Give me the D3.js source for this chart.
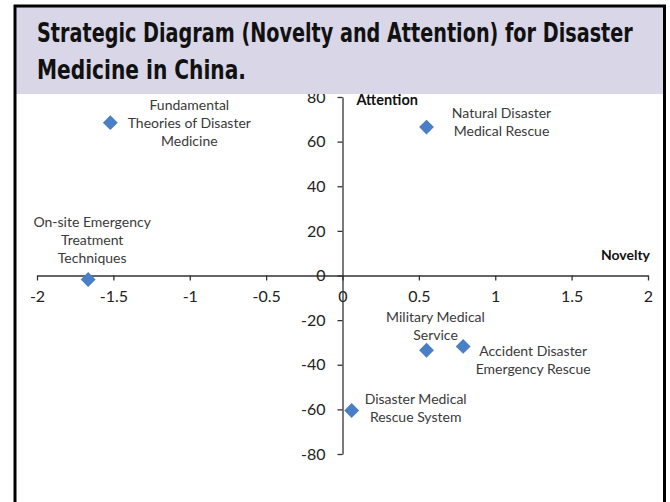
<!DOCTYPE html>
<html>
<head>
<meta charset="utf-8">
<script src="https://cdn.jsdelivr.net/npm/d3@7"></script>
<style>
  html, body { margin: 0; padding: 0; background: #fff; }
  svg { display: block; }
</style>
</head>
<body>
<div id="chart"></div>
<script>
// Research themes placed by novelty (x) and attention (y)
const themes = [
  ["Fundamental", "Theories of Disaster", "Medicine"],
  ["Natural Disaster", "Medical Rescue"],
  ["On-site Emergency", "Treatment", "Techniques"],
  ["Military Medical", "Service"],
  ["Accident Disaster", "Emergency Rescue"],
  ["Disaster Medical", "Rescue System"]
];
const novelty   = [-1.52, 0.55, -1.665, 0.55, 0.79, 0.06];
const attention = [68.5, 66.5, -1.8, -33.5, -31.8, -60.5];

const xTicks = [-2, -1.5, -1, -0.5, 0, 0.5, 1, 1.5, 2];
const yTicks = [-80, -60, -40, -20, 0, 20, 40, 60, 80];

const titleLines = [
  "Strategic Diagram (Novelty and Attention) for Disaster",
  "Medicine in China."
];

// label placement relative to each marker: [dx, dy of first line]
const labelOffset = [[79, -18], [75, -14], [4, -57], [9, -33], [70, 5], [64, -11]];

const W = 670, H = 502;
const svg = d3.select("#chart").append("svg")
  .attr("width", W).attr("height", H);

const x = d3.scaleLinear().domain([-2, 2]).range([37, 648]);
const y = d3.scaleLinear().domain([-80, 80]).range([454, 97]);

const axisColor = "#333";
const labelFont = "Lato, 'Open Sans', sans-serif";

// x axis through y = 0
const gx = svg.append("g")
  .attr("transform", `translate(0,${y(0)})`)
  .call(d3.axisBottom(x).tickValues(xTicks).tickSize(5).tickSizeOuter(0).tickPadding(10)
    .tickFormat(d => String(d)));

// y axis through x = 0
const gy = svg.append("g")
  .attr("transform", `translate(${x(0)},0)`)
  .call(d3.axisLeft(y).tickValues(yTicks).tickSize(5).tickSizeOuter(0).tickPadding(12)
    .tickFormat(d => String(d)));

[gx, gy].forEach(g => {
  g.select(".domain").attr("stroke", axisColor).attr("stroke-width", 1.3);
  g.selectAll(".tick line").attr("stroke", axisColor).attr("stroke-width", 1.3);
  g.selectAll(".tick text")
    .attr("fill", "#222")
    .style("font-family", labelFont)
    .style("font-size", "16px");
});

// axis titles
svg.append("text")
  .attr("x", x(0) + 14).attr("y", y(80) + 8)
  .style("font-family", labelFont).style("font-size", "14.5px").style("font-weight", "bold")
  .attr("fill", "#111").text("Attention");

svg.append("text")
  .attr("x", x(2) + 2).attr("y", y(0) - 16).attr("text-anchor", "end")
  .style("font-family", labelFont).style("font-size", "14px").style("font-weight", "bold")
  .attr("fill", "#111").text("Novelty");

// markers
const diamond = d3.symbol().type(d3.symbolSquare).size(110);
const idx = d3.range(themes.length);

svg.append("g").selectAll("path")
  .data(idx)
  .join("path")
  .attr("d", diamond)
  .attr("transform", i => `translate(${x(novelty[i])},${y(attention[i])}) rotate(45)`)
  .attr("fill", "#4a7ec6");

// multi-line labels
const labels = svg.append("g").selectAll("text")
  .data(idx)
  .join("text")
  .attr("text-anchor", "middle")
  .style("font-family", labelFont)
  .style("font-size", "14px")
  .attr("fill", "#3a3a3a");

labels.each(function(i) {
  const t = d3.select(this);
  const cx = x(novelty[i]) + labelOffset[i][0];
  const cy = y(attention[i]) + labelOffset[i][1];
  themes[i].forEach((line, k) => {
    t.append("tspan")
      .attr("x", cx)
      .attr("y", cy + k * 18)
      .attr("dy", "0.35em")
      .text(line);
  });
});

// title band and frame
svg.append("rect")
  .attr("x", 15).attr("y", 6).attr("width", 649).attr("height", 88)
  .attr("fill", "#d8d6e7");

svg.append("rect")
  .attr("x", 15).attr("y", 6).attr("width", 649.5).attr("height", 520)
  .attr("fill", "none").attr("stroke", "#000").attr("stroke-width", 3);

// title: condensed bold, squeezed horizontally to the band's text width
const titleBaselines = [42, 79];
const titleWidths = [596, 209];
svg.append("g").selectAll("text")
  .data(titleLines)
  .join("text")
  .style("font-family", "'Liberation Sans Narrow', 'DejaVu Sans Condensed', 'Liberation Sans', sans-serif")
  .style("font-size", "26px")
  .style("font-weight", "bold")
  .attr("fill", "#111")
  .text(d => d)
  .attr("transform", function(d, i) {
    const w = this.getComputedTextLength();
    const sx = w > 0 ? titleWidths[i] / w : 1;
    return `translate(37,${titleBaselines[i]}) scale(${sx},1)`;
  });
</script>
</body>
</html>
